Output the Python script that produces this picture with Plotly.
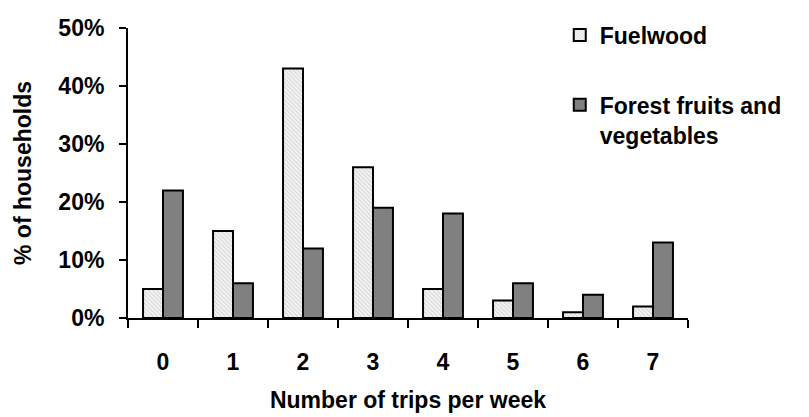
import plotly.graph_objects as go

categories = ["0", "1", "2", "3", "4", "5", "6", "7"]
fuelwood = [5, 15, 43, 26, 5, 3, 1, 2]
forest_fv = [22, 6, 12, 19, 18, 6, 4, 13]
series_names = ["Fuelwood", "Forest fruits and<br>vegetables"]

font_family = "Liberation Sans, Arial, sans-serif"
FS = 23

fig = go.Figure()
fig.add_trace(go.Bar(
    x=categories, y=fuelwood, name=series_names[0], legendgroup="a",
    marker=dict(color="#eeeeee", line=dict(color="black", width=2),
                pattern=dict(shape="\\", fgcolor="#a8a8a8", bgcolor="#f4f4f4", size=3, solidity=0.3)),
))
fig.add_trace(go.Bar(
    x=categories, y=forest_fv, name=series_names[1], legendgroup="b",
    marker=dict(color="#808080", line=dict(color="black", width=2)),
))

fig.update_layout(
    width=809, height=417,
    margin=dict(l=120, r=129, t=20, b=107, autoexpand=False),
    paper_bgcolor="white", plot_bgcolor="white",
    barmode="group", bargap=0.43, bargroupgap=0,
    font=dict(family=font_family, size=FS, color="black"),
    showlegend=True,
    legend=dict(x=0.771, y=1.05, xanchor="left", yanchor="top", valign="top",
                font=dict(family=font_family, size=FS, color="black", weight="bold"),
                tracegroupgap=37, bgcolor="rgba(0,0,0,0)"),
)
fig.update_xaxes(
    showline=True, linecolor="black", linewidth=2,
    ticks="outside", tickson="boundaries", ticklen=8, tickwidth=1.5, tickcolor="black",
    ticklabelstandoff=22,
    tickfont=dict(size=FS, weight="bold"),
    title=dict(text="<b>Number of trips per week</b>", font=dict(size=FS), standoff=18),
    showgrid=False, zeroline=False,
)
fig.update_yaxes(
    range=[0, 50], dtick=10, ticksuffix="%",
    showline=True, linecolor="black", linewidth=2,
    ticks="outside", ticklen=7, tickwidth=1.5, tickcolor="black",
    ticklabelstandoff=10,
    tickfont=dict(size=FS, weight="bold"),
    title=dict(text="<b>% of households</b>", font=dict(size=FS), standoff=20),
    showgrid=False, zeroline=False,
)

fig.write_html("out.html")
